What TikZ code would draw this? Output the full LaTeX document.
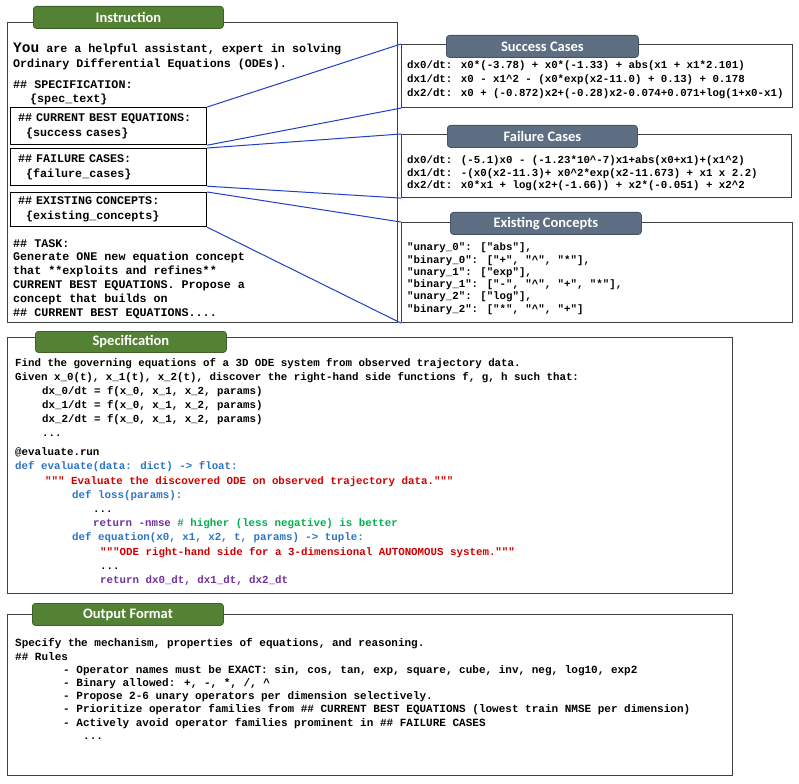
\documentclass[tikz,border=0pt]{standalone}
\usepackage{fontspec}
\setmainfont{Liberation Serif}
\newfontfamily\codefont{Liberation Mono}
\newfontfamily\titlefont{Carlito}
\definecolor{tabgreen}{HTML}{548235}
\definecolor{tabgreenline}{HTML}{3F6128}
\definecolor{tabslate}{HTML}{5E6F84}
\definecolor{tabslateline}{HTML}{44546A}
\definecolor{boxgray}{HTML}{404040}
\definecolor{connblue}{HTML}{1F3FC8}
\definecolor{cblue}{HTML}{2E75C6}
\definecolor{cred}{HTML}{D00000}
\definecolor{cgreen}{HTML}{00B050}
\definecolor{cpurple}{HTML}{7030A0}
\newcommand\ind[1]{\hspace*{#1pt}}
\newcommand\crt{\textasciicircum{}}
\begin{document}
\begin{tikzpicture}[x=1pt,y=-1pt,
  mainbox/.style={draw=boxgray, line width=1.1pt, fill=white, anchor=north west, inner sep=0pt},
  tabbase/.style={rounded corners=3pt, line width=0.8pt, anchor=north west, inner sep=0pt,
    text=white, font=\titlefont\bfseries\fontsize{14.5}{16}\selectfont},
  greentab/.style={tabbase, fill=tabgreen, draw=tabgreenline},
  slatetab/.style={tabbase, fill=tabslate, draw=tabslateline},
  subbox/.style={draw=black, line width=1.2pt, anchor=north west, inner xsep=8pt, inner ysep=0pt,
    text width=180.5pt, align=left, minimum width=196.5pt,
    font=\codefont\bfseries\fontsize{11.7}{15}\selectfont},
  txt/.style={anchor=north west, inner sep=0pt, align=left},
  instrfont/.style={font=\codefont\bfseries\fontsize{11.7}{#1}\selectfont},
  casefont/.style={font=\codefont\bfseries\fontsize{10.75}{#1}\selectfont},
  specfont/.style={font=\codefont\bfseries\fontsize{10.8}{#1}\selectfont},
  outfont/.style={font=\codefont\bfseries\fontsize{11}{#1}\selectfont},
  conn/.style={draw=connblue, line width=1pt}
]
\useasboundingbox (0,0) rectangle (799,783);

% ---------- Instruction ----------
\node[mainbox, minimum width=390pt, minimum height=300pt] (instr) at (7,22) {};
\node[greentab, minimum width=190pt, minimum height=22pt] (instrtab) at (33,6) {Instruction};
\node[txt, instrfont=15] (intro) at (13,41.4)
  {\strut{\fontsize{14.5}{15}\selectfont You} are a helpful assistant, expert in solving\\
   Ordinary Differential Equations (ODEs).};
\node[txt, instrfont=14] (spechead) at (13,78.1)
  {\strut\#\# SPECIFICATION:\\
   \ind{17}\{spec\_text\}};
\node[subbox, minimum height=37pt] (cur) at (9.5,107)
  {\#\# CURRENT BEST EQUATIONS:\\ \ind{8}\{success cases\}};
\node[subbox, minimum height=37pt] (fail) at (9.5,148)
  {\#\# FAILURE CASES:\\ \ind{8}\{failure\_cases\}};
\node[subbox, minimum height=34pt] (exist) at (9.5,192)
  {\#\# EXISTING CONCEPTS:\\ \ind{8}\{existing\_concepts\}};
\node[txt, instrfont=13.9] (task) at (13,237.1)
  {\strut\#\# TASK:\\
   Generate ONE new equation concept\\
   that **exploits and refines**\\
   CURRENT BEST EQUATIONS. Propose a\\
   concept that builds on\\
   \#\# CURRENT BEST EQUATIONS....};

% ---------- Success Cases ----------
\node[mainbox, minimum width=391pt, minimum height=63pt] (succ) at (401,44) {};
\node[slatetab, minimum width=192pt, minimum height=22pt] (succtab) at (446,35) {Success Cases};
\node[txt, casefont=14] (succtxt) at (407,58.75)
  {\strut dx0/dt: x0*(-3.78) + x0*(-1.33) + abs(x1 + x1*2.101)\\
   dx1/dt: x0 - x1\crt 2 - (x0*exp(x2-11.0) + 0.13) + 0.178\\
   dx2/dt: x0 + (-0.872)x2+(-0.28)x2-0.074+0.071+log(1+x0-x1)};

% ---------- Failure Cases ----------
\node[mainbox, minimum width=390pt, minimum height=63pt] (failc) at (401,134) {};
\node[slatetab, minimum width=190pt, minimum height=22pt] (failtab) at (447,125) {Failure Cases};
\node[txt, casefont=12.5] (failtxt) at (407,154.8)
  {\strut dx0/dt: (-5.1)x0 - (-1.23*10\crt -7)x1+abs(x0+x1)+(x1\crt 2)\\
   dx1/dt: -(x0(x2-11.3)+ x0\crt 2*exp(x2-11.673) + x1 x 2.2)\\
   dx2/dt: x0*x1 + log(x2+(-1.66)) + x2*(-0.051) + x2\crt 2};

% ---------- Existing Concepts ----------
\node[mainbox, minimum width=391pt, minimum height=100pt] (exc) at (401,222) {};
\node[slatetab, minimum width=191pt, minimum height=22pt] (exctab) at (450,212) {Existing Concepts};
\node[txt, casefont=12.3] (exctxt) at (407,241.9)
  {\strut "unary\_0": ["abs"],\\
   "binary\_0": ["+", "\crt", "*"],\\
   "unary\_1": ["exp"],\\
   "binary\_1": ["-", "\crt", "+", "*"],\\
   "unary\_2": ["log"],\\
   "binary\_2": ["*", "\crt", "+"]};

% ---------- connectors ----------
\draw[conn] (cur.north east) -- (succ.north west);
\draw[conn] (cur.south east) -- (succ.south west);
\draw[conn] (fail.north east) -- (failc.north west);
\draw[conn] (fail.south east) -- (failc.south west);
\draw[conn] (exist.north east) -- (exc.north west);
\draw[conn] (exist.south east) -- (exc.south west);

% ---------- Specification ----------
\node[mainbox, minimum width=725pt, minimum height=256pt] (spec) at (7,337) {};
\node[greentab, minimum width=191pt, minimum height=21pt] (spectab) at (35,331) {Specification};
\node[txt, specfont=14.1] (spectxt) at (15,356.2)
  {\strut Find the governing equations of a 3D ODE system from observed trajectory data.\\
   Given x\_0(t), x\_1(t), x\_2(t), discover the right-hand side functions f, g, h such that:\\
   \ind{27}dx\_0/dt = f(x\_0, x\_1, x\_2, params)\\
   \ind{27}dx\_1/dt = f(x\_0, x\_1, x\_2, params)\\
   \ind{27}dx\_2/dt = f(x\_0, x\_1, x\_2, params)\\
   \ind{27}...};
\node[txt, specfont=14.2] (codetxt) at (15,445.6)
  {\strut @evaluate.run\\
   \textcolor{cblue}{def evaluate(data: dict) -> float:}\\
   \ind{30}\textcolor{cred}{""" Evaluate the discovered ODE on observed trajectory data."""}\\
   \ind{57}\textcolor{cblue}{def loss(params):}\\
   \ind{78}...\\
   \ind{78}\textcolor{cpurple}{return -nmse} \textcolor{cgreen}{\# higher (less negative) is better}\\
   \ind{57}\textcolor{cblue}{def equation(x0, x1, x2, t, params) -> tuple:}\\
   \ind{85}\textcolor{cred}{"""ODE right-hand side for a 3-dimensional AUTONOMOUS system."""}\\
   \ind{85}...\\
   \ind{85}\textcolor{cpurple}{return dx0\_dt, dx1\_dt, dx2\_dt}};

% ---------- Output Format ----------
\node[mainbox, minimum width=725pt, minimum height=161pt] (outb) at (7,614) {};
\node[greentab, minimum width=191pt, minimum height=22pt] (outtab) at (32,603) {Output Format};
\node[txt, outfont=13.2] (outtxt) at (15,637.4)
  {\strut Specify the mechanism, properties of equations, and reasoning.\\
   \#\# Rules\\
   \ind{48}- Operator names must be EXACT: sin, cos, tan, exp, square, cube, inv, neg, log10, exp2\\
   \ind{48}- Binary allowed: +, -, *, /, \crt\\
   \ind{48}- Propose 2-6 unary operators per dimension selectively.\\
   \ind{48}- Prioritize operator families from \#\# CURRENT BEST EQUATIONS (lowest train NMSE per dimension)\\
   \ind{48}- Actively avoid operator families prominent in \#\# FAILURE CASES\\
   \ind{68}...};
\end{tikzpicture}
\end{document}
